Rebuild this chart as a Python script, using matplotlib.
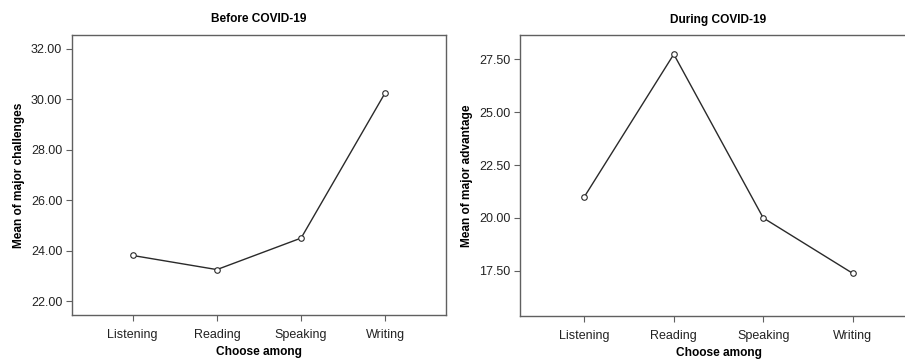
import matplotlib.pyplot as plt

plt.rcParams['font.family'] = ['Liberation Sans', 'DejaVu Sans']

skills = ["Listening", "Reading", "Speaking", "Writing"]
before_means = [23.81, 23.25, 24.50, 30.27]
during_means = [21.00, 27.74, 20.00, 17.38]

before_ticks = [22, 24, 26, 28, 30, 32]
during_ticks = [17.5, 20.0, 22.5, 25.0, 27.5]

W, H = 905, 360
fig = plt.figure(figsize=(W / 100, H / 100), dpi=100)

# axes boxes in pixels (left, right, top, bottom)
ax1 = fig.add_axes([72 / W, (H - 315) / H, (446 - 72) / W, (315 - 35) / H])
ax2 = fig.add_axes([520 / W, (H - 316) / H, (917 - 520) / W, (316 - 35) / H])

spine_col = "#606060"
line_col = "#2a2a2a"


def draw(ax, values, ticks, ylim, title, ylabel):
    x = range(len(skills))
    ax.plot(x, values, color=line_col, lw=1.0, marker="o", ms=4,
            mfc="white", mec=line_col, mew=0.8)
    ax.set_xticks(list(x))
    ax.set_xticklabels(skills)
    ax.set_yticks(ticks)
    ax.set_yticklabels([f"{t:.2f}" for t in ticks])
    ax.set_xlim(-0.72, 3.72)
    ax.set_ylim(*ylim)
    ax.set_title(title, fontsize=8.6, fontweight="bold", pad=9)
    ax.set_xlabel("Choose among", fontsize=8.6, fontweight="bold", labelpad=4)
    ax.set_ylabel(ylabel, fontsize=8.6, fontweight="bold", labelpad=4)
    ax.tick_params(axis="both", labelsize=9, length=4, width=0.8,
                   color=spine_col, labelcolor="#222222", pad=3)
    ax.tick_params(axis="x", pad=6)
    for s in ax.spines.values():
        s.set_color(spine_col)
        s.set_linewidth(1.0)


draw(ax1, before_means, before_ticks, (21.45, 32.55),
     "Before COVID-19", "Mean of major challenges")
draw(ax2, during_means, during_ticks, (15.36, 28.65),
     "During COVID-19", "Mean of major advantage")

fig.savefig("out.png", dpi=100)
